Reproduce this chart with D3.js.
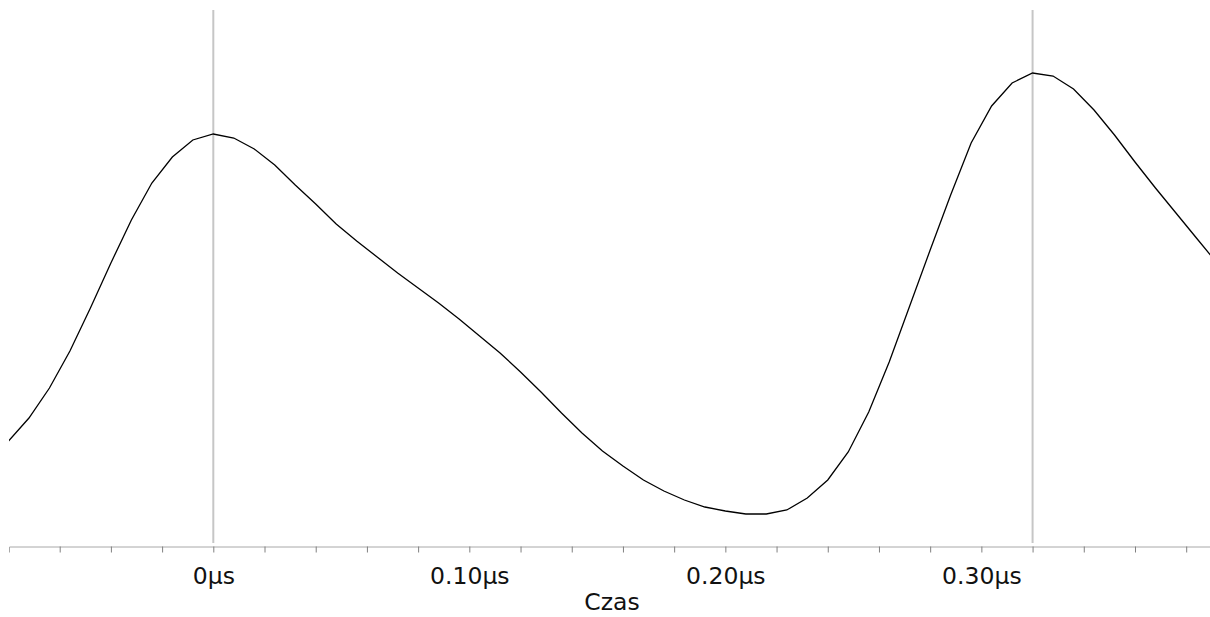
<!DOCTYPE html>
<html lang="pl">
<head>
    <meta charset="UTF-8">
    <title>Czas</title>
    <script src="https://d3js.org/d3.v7.min.js"></script>
    <style>
        html, body { margin: 0; padding: 0; background: #fff; }
        svg { display: block; font-family: "DejaVu Sans", sans-serif; }
    </style>
</head>
<body>
    <script>
        const width = 1210;
        const height = 617;

        // sample times in µs (8 ns step)
        const times = [
            -0.080, -0.072, -0.064, -0.056, -0.048, -0.040, -0.032, -0.024, -0.016, -0.008,
             0.000,  0.008,  0.016,  0.024,  0.032,  0.040,  0.048,  0.056,  0.064,  0.072,
             0.080,  0.088,  0.096,  0.104,  0.112,  0.120,  0.128,  0.136,  0.144,  0.152,
             0.160,  0.168,  0.176,  0.184,  0.192,  0.200,  0.208,  0.216,  0.224,  0.232,
             0.240,  0.248,  0.256,  0.264,  0.272,  0.280,  0.288,  0.296,  0.304,  0.312,
             0.320,  0.328,  0.336,  0.344,  0.352,  0.360,  0.368,  0.376,  0.384,  0.392
        ];
        // signal amplitude (arbitrary units)
        const signal = [
            106, 129, 159, 196, 239, 284, 327, 364, 390, 407,
            413, 409, 398, 382, 362, 343, 323, 306, 290, 274,
            259, 244, 228, 211, 194, 175, 155, 134, 114,  96,
             81,  67,  56,  47,  40,  36,  33,  33,  37,  49,
             67,  95, 135, 185, 241, 297, 352, 404, 441, 464,
            474, 471, 458, 437, 412, 385, 359, 334, 309, 284
        ];
        // vertical markers (µs)
        const markers = [0, 0.32];
        // tick positions (µs)
        const tickValues = d3.range(-6, 39, 2).map(d => d / 100);

        const data = times.map((t, i) => ({ t: t, v: signal[i] }));

        const x = d3.scaleLinear()
            .domain([-0.0798, 0.3893])
            .range([9, 1210]);
        const y = d3.scaleLinear()
            .domain([0, 537])
            .range([547, 10]);

        const svg = d3.select("body")
            .append("svg")
            .attr("width", width)
            .attr("height", height);

        svg.append("defs").append("clipPath")
            .attr("id", "plot-clip")
            .append("rect")
            .attr("x", 9)
            .attr("y", 0)
            .attr("width", 1201)
            .attr("height", 547);

        // marker lines
        svg.append("g")
            .selectAll("line")
            .data(markers)
            .enter().append("line")
            .attr("x1", d => x(d))
            .attr("x2", d => x(d))
            .attr("y1", 10)
            .attr("y2", 543)
            .attr("stroke", "#c6c6c6")
            .attr("stroke-width", 2);

        // x axis
        const xAxis = d3.axisBottom(x)
            .tickValues(tickValues)
            .tickSizeOuter(0)
            .tickSize(6)
            .tickFormat(d => {
                const n = Math.round(d * 100);
                if (n % 10 !== 0) return "";
                return n === 0 ? "0µs" : d3.format(".2f")(d) + "µs";
            });

        const axisG = svg.append("g")
            .attr("transform", "translate(0,546.5)")
            .call(xAxis);

        axisG.select(".domain")
            .attr("stroke", "#a8a8a8");
        axisG.selectAll(".tick line")
            .attr("stroke", "#808080");
        axisG.selectAll(".tick text")
            .attr("y", 37)
            .attr("dy", null)
            .attr("fill", "#111")
            .style("font-family", "'DejaVu Sans', sans-serif")
            .style("font-size", "23.5px");

        svg.append("text")
            .attr("x", 612)
            .attr("y", 610)
            .attr("text-anchor", "middle")
            .attr("fill", "#111")
            .style("font-size", "23.5px")
            .text("Czas");

        // signal line
        const line = d3.line()
            .x(d => x(d.t))
            .y(d => y(d.v));

        svg.append("path")
            .datum(data)
            .attr("clip-path", "url(#plot-clip)")
            .attr("fill", "none")
            .attr("stroke", "#000")
            .attr("stroke-width", 1.3)
            .attr("d", line);
    </script>
</body>
</html>
